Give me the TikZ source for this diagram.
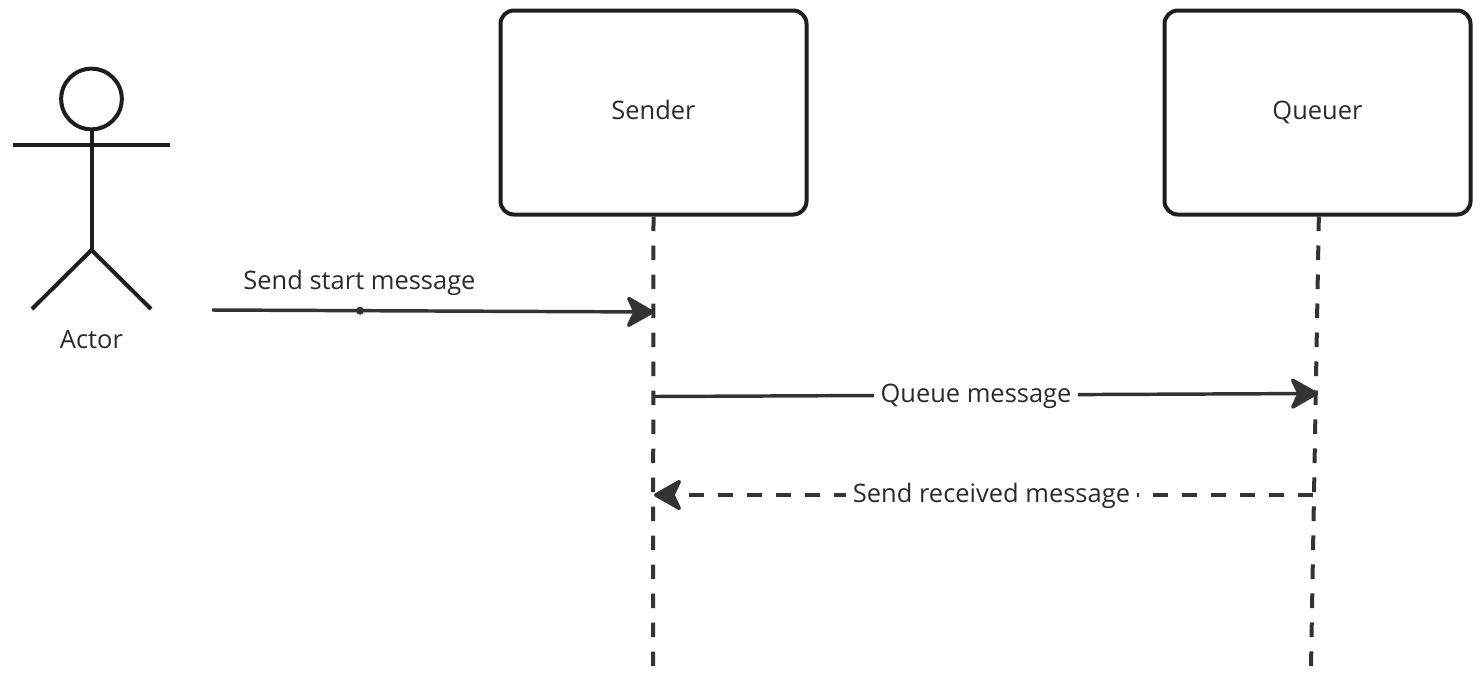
\documentclass[tikz,border=0pt]{standalone}
\usepackage{fontspec}
\setmainfont{Open Sans}
\usetikzlibrary{arrows.meta}
\definecolor{ink}{HTML}{1E1E1E}
\definecolor{txt}{HTML}{2B2B2B}
\definecolor{conn}{HTML}{333333}
\tikzset{
  x=0.75pt,y=-0.75pt,
  lane/.style={draw=ink,line width=3pt,rounded corners=10pt,fill=white,minimum width=229.5pt,minimum height=153pt,inner sep=0pt,font=\fontsize{19.1pt}{23pt}\selectfont,text=txt,text height=14pt,text depth=4pt},
  figure/.style={draw=ink,line width=3pt},
  life/.style={draw=conn,line width=3pt,dash pattern=on 11pt off 10.75pt},
  msg/.style={draw=conn,line width=2.6pt,-{Stealth[length=23pt,width=26pt,inset=6pt,round]}},
  lbl/.style={font=\fontsize{19.1pt}{23pt}\selectfont,text=txt,inner sep=0pt,text height=14pt,text depth=4pt},
  gaplbl/.style={lbl,fill=white,inner xsep=5pt,inner ysep=0pt}
}
\begin{document}
\begin{tikzpicture}
\useasboundingbox (0,0) rectangle (1480,675);
\fill[white] (0,0) rectangle (1480,675);
\node[lane] (sender) at (653.5,112.5) {Sender};
\node[lane] (queuer) at (1317.5,112.5) {Queuer};
\coordinate (senderEnd) at (653,667);
\coordinate (queuerEnd) at (1311,667);
\draw[life] (sender.south) -- (senderEnd);
\draw[life] ([xshift=1pt]queuer.south) -- (queuerEnd);
% actor
\node[draw=ink,line width=3pt,circle,minimum size=45.5pt,inner sep=0pt] (head) at (91.5,99) {};
\coordinate (armL) at (13,145);
\coordinate (armR) at (170,145);
\coordinate (hip) at (91.5,250);
\coordinate (legL) at (32,309);
\coordinate (legR) at (151,309);
\draw[figure] (head.south) -- (hip);
\draw[figure] (armL) -- (armR);
\draw[figure] (legL) -- (hip) -- (legR);
\node[lbl] (actor) at (91.5,342) {Actor};
% messages
\coordinate (startA) at (212,310);
\coordinate (startB) at (654,312);
\coordinate (qA) at (654,396.5);
\coordinate (qB) at (1318,393.5);
\coordinate (rA) at (1312.5,495);
\coordinate (rB) at (654,495);
\draw[msg] (startA) -- (startB);
\fill[conn] (360,310.7) circle (3pt);
\node[lbl] (startLbl) at (359.5,282.5) {Send start message};
\draw[msg] (qA) -- (qB);
\node[gaplbl] (qLbl) at (976,395.5) {Queue message};
\draw[msg,dash pattern=on 11pt off 10.75pt] (rA) -- (rB);
\node[gaplbl] (rLbl) at (991.5,496) {Send received message};
\end{tikzpicture}
\end{document}
